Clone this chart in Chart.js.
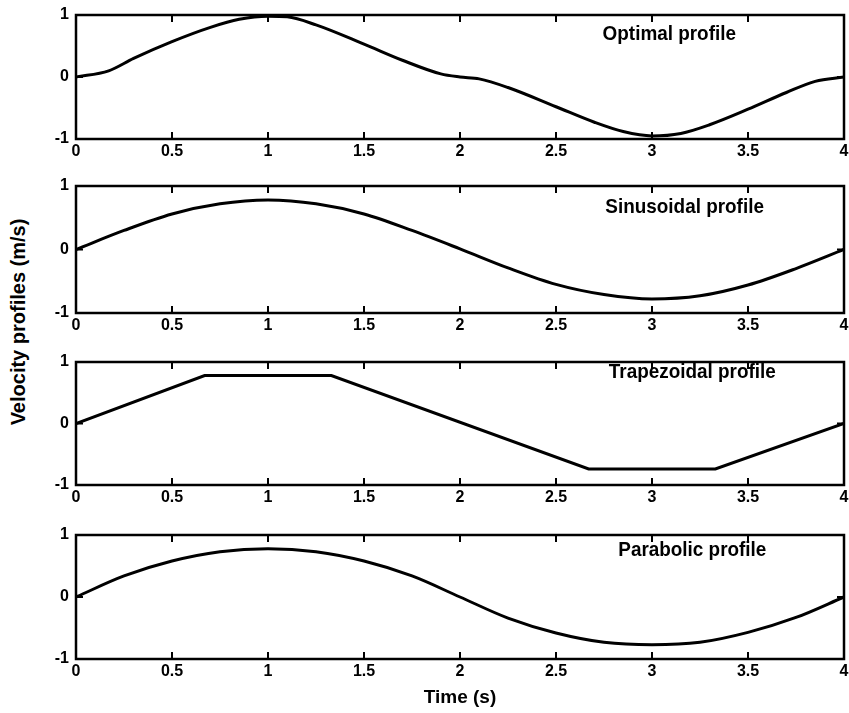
<!DOCTYPE html>
<html>
<head>
<meta charset="utf-8">
<script src="https://cdn.jsdelivr.net/npm/chart.js@4.4.1/dist/chart.umd.min.js"></script>
<style>
  body { margin: 0; background: #fff; width: 849px; height: 713px; overflow: hidden; position: relative; font-family: "Liberation Sans", Arial, sans-serif; }
  canvas { position: absolute; left: 0; }
  #ylab { position: absolute; left: 18px; top: 322px; transform: translate(-50%, -50%) rotate(-90deg); font-weight: bold; font-size: 20px; white-space: nowrap; color: #000; }
</style>
</head>
<body>
<div id="ylab">Velocity profiles (m/s)</div>
<canvas id="c0"></canvas>
<canvas id="c1"></canvas>
<canvas id="c2"></canvas>
<canvas id="c3"></canvas>
<script>
// tick values and labels
const xTicks = [0, 0.5, 1, 1.5, 2, 2.5, 3, 3.5, 4];
const xTickLabels = ['0', '0.5', '1', '1.5', '2', '2.5', '3', '3.5', '4'];
const yTicks = [-1, 0, 1];
const yTickLabels = ['-1', '0', '1'];

// panel titles
const profileNames = ['Optimal profile', 'Sinusoidal profile', 'Trapezoidal profile', 'Parabolic profile'];

// velocity data (time in s, velocity in m/s)
const optimalTime = [0, 0.17, 0.3, 0.5, 0.7, 0.85, 1.0, 1.1, 1.25, 1.5, 1.7, 1.9, 2.0, 2.1, 2.25, 2.5, 2.7, 2.85, 3.0, 3.15, 3.3, 3.5, 3.7, 3.85, 4.0];
const optimalVel  = [0, 0.1, 0.3, 0.57, 0.8, 0.93, 0.98, 0.97, 0.84, 0.53, 0.27, 0.05, 0.0, -0.03, -0.17, -0.48, -0.73, -0.88, -0.95, -0.91, -0.77, -0.52, -0.25, -0.07, 0.0];

const sineTime = [0, 0.25, 0.5, 0.75, 1, 1.25, 1.5, 1.75, 2, 2.25, 2.5, 2.75, 3, 3.25, 3.5, 3.75, 4];
const sineVel  = [0, 0.3, 0.56, 0.72, 0.78, 0.72, 0.56, 0.3, 0.01, -0.29, -0.55, -0.71, -0.78, -0.73, -0.56, -0.3, 0];

const trapTime = [0, 0.67, 1.33, 2.67, 3.33, 4];
const trapVel  = [0, 0.78, 0.78, -0.74, -0.74, 0];

const paraTime = [0, 0.25, 0.5, 0.75, 1, 1.25, 1.5, 1.75, 2, 2.25, 2.5, 2.75, 3, 3.25, 3.5, 3.75, 4];
const paraVel  = [0, 0.34, 0.58, 0.73, 0.78, 0.73, 0.58, 0.34, 0, -0.34, -0.58, -0.73, -0.77, -0.73, -0.57, -0.33, 0];

// layout
const panelTop = [15, 186, 362, 535];
const panelBottom = [139, 313, 485, 659];
const labelAt = [[3.09, 0.69], [3.17, 0.67], [3.21, 0.84], [3.21, 0.76]];

const tickFont = { family: '"Liberation Sans", Arial, sans-serif', size: 16, weight: 'bold' };

const framePlugin = {
  id: 'frame',
  afterDatasetsDraw(chart, args, opts) {
    const { ctx, chartArea: a, scales: { x, y } } = chart;
    ctx.save();
    ctx.strokeStyle = '#000';
    ctx.lineWidth = 2.5;
    ctx.strokeRect(a.left, a.top, a.right - a.left, a.bottom - a.top);
    ctx.lineWidth = 2;
    ctx.beginPath();
    x.ticks.forEach(t => {
      const px = x.getPixelForValue(t.value);
      ctx.moveTo(px, a.bottom); ctx.lineTo(px, a.bottom - 7);
      ctx.moveTo(px, a.top); ctx.lineTo(px, a.top + 7);
    });
    y.ticks.forEach(t => {
      const py = y.getPixelForValue(t.value);
      ctx.moveTo(a.left, py); ctx.lineTo(a.left + 7, py);
      ctx.moveTo(a.right, py); ctx.lineTo(a.right - 7, py);
    });
    ctx.stroke();
    ctx.fillStyle = '#000';
    ctx.font = 'bold 21px "Liberation Sans", Arial, sans-serif';
    ctx.textAlign = 'center';
    ctx.textBaseline = 'middle';
    ctx.translate(x.getPixelForValue(opts.at[0]), y.getPixelForValue(opts.at[1]));
    ctx.scale(0.9, 1);
    ctx.fillText(opts.text, 0, 0);
    ctx.restore();
  }
};

function makePanel(i, times, vels, smooth) {
  const canvas = document.getElementById('c' + i);
  const last = i === 3;
  const padTop = 10;
  const axisH = last ? 54 : 26;
  canvas.width = 849;
  canvas.height = padTop + (panelBottom[i] - panelTop[i]) + axisH;
  canvas.style.top = (panelTop[i] - padTop) + 'px';

  new Chart(canvas, {
    type: 'line',
    data: {
      datasets: [{
        data: times.map((t, k) => ({ x: t, y: vels[k] })),
        borderColor: '#000',
        borderWidth: 3,
        pointRadius: 0,
        fill: false,
        cubicInterpolationMode: smooth ? 'monotone' : 'default',
        tension: 0
      }]
    },
    options: {
      responsive: false,
      animation: false,
      events: [],
      layout: { padding: { top: padTop, left: 0, right: 5, bottom: 0 } },
      plugins: {
        legend: { display: false },
        tooltip: { enabled: false },
        frame: { text: profileNames[i], at: labelAt[i] }
      },
      scales: {
        x: {
          type: 'linear', min: 0, max: 4,
          afterBuildTicks: s => { s.ticks = xTicks.map(v => ({ value: v })); },
          afterFit: s => { s.height = axisH; s.paddingLeft = 0; s.paddingRight = 0; },
          ticks: { color: '#000', font: tickFont, padding: 3, autoSkip: false, maxRotation: 0,
                   callback: (v, idx) => xTickLabels[idx] },
          grid: { display: false, drawTicks: false },
          border: { display: false },
          title: {
            display: last, text: 'Time (s)', color: '#000',
            font: { family: '"Liberation Sans", Arial, sans-serif', size: 19, weight: 'bold' },
            padding: { top: 0, bottom: 4 }
          }
        },
        y: {
          type: 'linear', min: -1, max: 1,
          afterBuildTicks: s => { s.ticks = yTicks.map(v => ({ value: v })); },
          afterFit: s => { s.width = 76; s.paddingTop = 0; s.paddingBottom = 0; },
          ticks: { color: '#000', font: tickFont, padding: 7, callback: (v, idx) => yTickLabels[idx] },
          grid: { display: false, drawTicks: false },
          border: { display: false }
        }
      }
    },
    plugins: [framePlugin]
  });
}

makePanel(0, optimalTime, optimalVel, true);
makePanel(1, sineTime, sineVel, true);
makePanel(2, trapTime, trapVel, false);
makePanel(3, paraTime, paraVel, true);
</script>
</body>
</html>
